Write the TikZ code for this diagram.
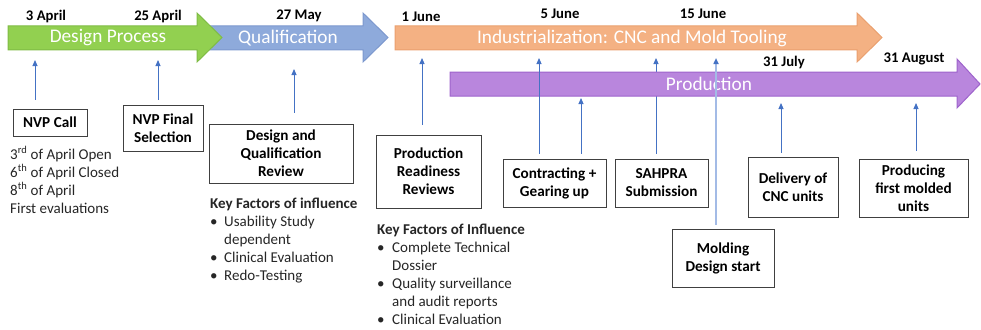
\documentclass[tikz,border=0pt]{standalone}
\usepackage{fontspec}
\setmainfont{Carlito}
\usetikzlibrary{arrows.meta}

\definecolor{greenfill}{HTML}{92D050}
\definecolor{greenline}{HTML}{7FBC45}
\definecolor{bluefill}{HTML}{8EAADB}
\definecolor{blueline}{HTML}{7C98CE}
\definecolor{orangefill}{HTML}{F4B183}
\definecolor{orangeline}{HTML}{EAA06F}
\definecolor{purplefill}{HTML}{B986DD}
\definecolor{purpleline}{HTML}{9E63CC}
\definecolor{connblue}{HTML}{4472C4}
\definecolor{connlight}{HTML}{A3BBE6}
\definecolor{boxgray}{HTML}{404040}
\definecolor{bodytext}{HTML}{262626}

\tikzset{
  band/.style={line width=1pt, line join=miter},
  bandlabel/.style={text=white, font=\fontsize{19.3}{22}\selectfont, inner sep=0},
  datelabel/.style={text=black, font=\fontsize{14.7}{17}\selectfont\bfseries, inner sep=0},
  conn/.style={draw=connblue, line width=0.9pt,
    -{Triangle[length=6pt,width=5pt,color=connblue]}},
  connsoft/.style={draw=connlight, line width=1.6pt,
    -{Triangle[length=6pt,width=5pt,color=connblue]}},
  milestone/.style={draw=boxgray, line width=1pt, fill=white, align=center,
    inner sep=0, text=black, font=\fontsize{15.2}{18}\selectfont\bfseries},
  notes/.style={align=left, inner sep=0, anchor=west, text=bodytext,
    font=\fontsize{15}{18}\selectfont},
}

\newcommand{\bulletitem}[1]{\makebox[14pt][l]{\textbullet}#1}
\newcommand{\bulletcont}[1]{\hspace*{14pt}#1}
\newcommand{\bulletitemB}[1]{\makebox[15pt][l]{\textbullet}#1}
\newcommand{\bulletcontB}[1]{\hspace*{15pt}#1}

\begin{document}
\begin{tikzpicture}[x=1pt,y=-1pt]
\useasboundingbox (0,0) rectangle (981,329);

% ---- phase bands -------------------------------------------------------
\draw[band, fill=bluefill, draw=blueline]
  (200,26) -- (363,26) -- (363,13) -- (388,37.5) -- (363,62) -- (363,50) -- (200,50) -- cycle;
\draw[band, fill=greenfill, draw=greenline]
  (8,26) -- (197,26) -- (197,13) -- (222,37.5) -- (197,62) -- (197,50) -- (8,50) -- cycle;
\draw[band, fill=orangefill, draw=orangeline]
  (395,26) -- (857,26) -- (857,13) -- (882,37.5) -- (857,62) -- (857,50) -- (395,50) -- cycle;

% SAHPRA connector passes behind the production band
\coordinate (tG) at (656,58);

\node[milestone, minimum width=93pt, minimum height=48pt] (sahpra) at (661.5,183)
  {SAHPRA\\Submission};
\draw[conn, shorten <=5pt] (sahpra.north -| tG) -- (tG);

\draw[band, fill=purplefill, draw=purpleline]
  (450,72) -- (957,72) -- (957,59) -- (980,84) -- (957,108) -- (957,96) -- (450,96) -- cycle;

\node[bandlabel] (lbldesign) at (108,38) {Design Process};
\node[bandlabel] (lblqual) at (288,38) {Qualification};
\node[bandlabel] (lblind) at (632,38) {Industrialization: CNC and Mold Tooling};
\node[bandlabel] (lblprod) at (709,84) {Production};

% ---- dates --------------------------------------------------------------
\node[datelabel] (d1) at (46,16) {3 April};
\node[datelabel] (d2) at (158,16) {25 April};
\node[datelabel] (d3) at (299,16) {27 May};
\node[datelabel] (d4) at (421,17) {1 June};
\node[datelabel] (d5) at (560,14) {5 June};
\node[datelabel] (d6) at (703,14) {15 June};
\node[datelabel] (d7) at (784,62) {31 July};
\node[datelabel] (d8) at (914,59) {31 August};

% ---- milestone boxes ---------------------------------------------------
\node[milestone, minimum width=74pt, minimum height=27pt] (nvpcall) at (50,122.5) {NVP Call};
\node[milestone, minimum width=80pt, minimum height=46pt] (nvpfinal) at (163,128) {NVP Final\\Selection};
\node[milestone, minimum width=144pt, minimum height=59pt] (dqreview) at (281,153.5)
  {Design and\\Qualification\\Review};
\node[milestone, minimum width=105pt, minimum height=73pt] (prr) at (428.5,171.5)
  {Production\\Readiness\\Reviews};
\node[milestone, minimum width=103pt, minimum height=48pt] (contract) at (554.5,183)
  {Contracting +\\Gearing up};
\node[milestone, minimum width=102pt, minimum height=58pt] (molding) at (723,258)
  {Molding\\Design start};
\node[milestone, minimum width=90pt, minimum height=60pt] (delivery) at (793,187)
  {Delivery of\\CNC units};
\node[milestone, minimum width=109pt, minimum height=58pt] (producing) at (913.5,188)
  {Producing\\first molded\\units};

% ---- connector tips ----------------------------------------------------
\coordinate (tA) at (35,60);
\coordinate (tB) at (158,60);
\coordinate (tC) at (294,69);
\coordinate (tD) at (422,58);
\coordinate (tE) at (539,58);
\coordinate (tF) at (581,98);
\coordinate (tH) at (716,58);
\coordinate (tI) at (781,103);
\coordinate (tJ) at (916,103);

\draw[conn, shorten <=9pt] (nvpcall.north -| tA) -- (tA);
\draw[conn, shorten <=5pt] (nvpfinal.north -| tB) -- (tB);
\draw[conn, shorten <=11pt] (dqreview.north -| tC) -- (tC);
\draw[conn, shorten <=10pt] (prr.north -| tD) -- (tD);
\draw[conn, shorten <=5pt] (contract.north -| tE) -- (tE);
\draw[conn, shorten <=5pt] (contract.north -| tF) -- (tF);
\draw[connsoft, shorten <=4pt] (molding.north -| tH) -- (tH);
\draw[conn, shorten <=4pt] (delivery.north -| tI) -- (tI);
\draw[conn, shorten <=8pt] (producing.north -| tJ) -- (tJ);

% ---- notes -------------------------------------------------------------
\node[notes] (callnotes) at (10,180)
  {3\textsuperscript{rd} of April Open\\
   6\textsuperscript{th} of April Closed\\
   8\textsuperscript{th} of April\\
   First evaluations};

\node[notes] (qualnotes) at (210,241)
  {\textbf{Key Factors of influence}\\
   \bulletitem{Usability Study}\\
   \bulletcont{dependent}\\
   \bulletitem{Clinical Evaluation}\\
   \bulletitem{Redo-Testing}};

\node[notes] (prodnotes) at (377,274)
  {\textbf{Key Factors of Influence}\\
   \bulletitemB{Complete Technical}\\
   \bulletcontB{Dossier}\\
   \bulletitemB{Quality surveillance}\\
   \bulletcontB{and audit reports}\\
   \bulletitemB{Clinical Evaluation}};

\end{tikzpicture}
\end{document}
